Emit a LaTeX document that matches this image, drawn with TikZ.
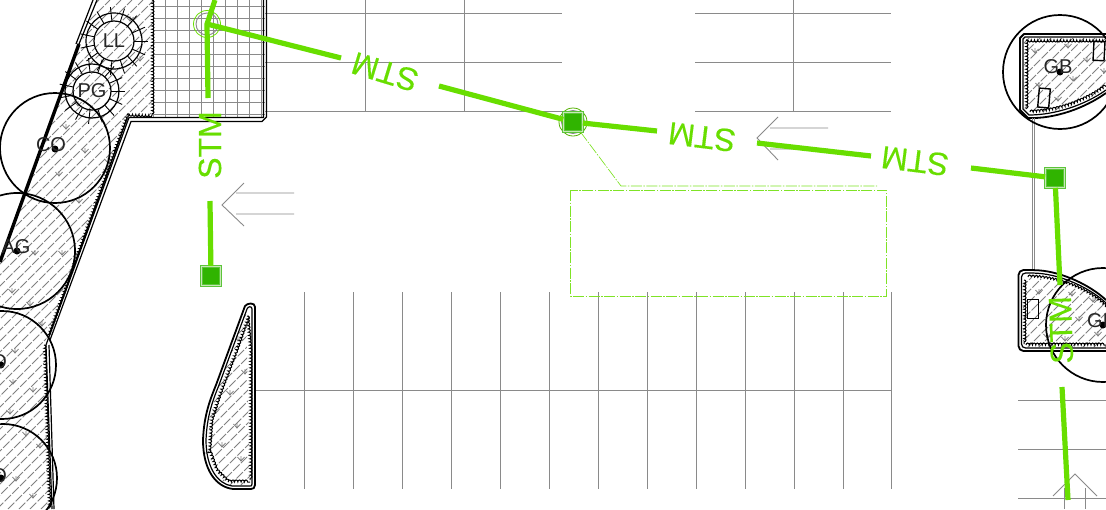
\documentclass[tikz,border=0pt]{standalone}
\usepackage{fontspec}
\setmainfont{Liberation Sans}
\newfontfamily\stmfont[FakeBold=0.3]{Liberation Sans}
\usetikzlibrary{decorations.pathmorphing}
\definecolor{stm}{HTML}{68DE00}
\definecolor{inlet}{HTML}{30B400}
\definecolor{inletb}{HTML}{5CC43A}
\definecolor{inlets}{HTML}{C8E8B8}
\definecolor{site}{HTML}{8A8A8A}
\tikzset{
  x=1pt,y=-1pt,
  siteline/.style={draw=site,line width=0.9pt},
  pipe/.style={draw=stm,line width=5.2pt},
  stmlabel/.style={text=stm,font=\stmfont\fontsize{32}{32}\selectfont,inner sep=0pt},
  inletbox/.style={draw=inletb,fill=inlet,line width=1.1pt,double=inlets,double distance=0.6pt,minimum size=18.5pt,inner sep=0pt},
  curbline/.style={draw=black,line width=1.2pt},
  thickcurb/.style={draw=black,line width=1.8pt,line join=round},
  canopy/.style={draw=black,line width=1.7pt},
  hatchline/.style={draw=black!50,line width=0.85pt,dash pattern=on 9pt off 1.8pt},
  scallop/.style={draw=black,line width=1pt,decorate,decoration={bumps,segment length=6.5pt,amplitude=2pt}},
  treelabel/.style={font=\fontsize{20}{20}\selectfont,text=black!85,inner sep=0pt},
  trunk/.style={fill=black,circle,minimum size=7pt,inner sep=0pt},
  carstop/.style={draw=black,line width=1.4pt,inner sep=0pt},
  reach/.style={draw=stm!85,line width=0.65pt,dash pattern=on 11pt off 1.5pt on 1.5pt off 1.5pt},
  pics/grassmark/.style={code={
    \draw[black!50,line width=0.8pt] (-3.5,-3) -- (0,1) -- (3.5,-3) (0,1) -- (0,-4);
  }}
}
\newcommand{\hatchfill}{%
  \foreach \k in {0,11,...,1700}{\draw[hatchline] (\k-509,509) -- (\k,0);}%
}
\begin{document}
\begin{tikzpicture}
\useasboundingbox (0,0) rectangle (1106,509);
\fill[white] (0,0) rectangle (1106,509);
% parking layout
\foreach \yy in {13,62,111}{
  \draw[siteline] (265,\yy) -- (562,\yy);
  \draw[siteline] (695,\yy) -- (891,\yy);
}
\foreach \xx in {365,464,793}{\draw[siteline] (\xx,0) -- (\xx,111);}
\foreach \xx in {304,353,402,451,500,549,598,647,696,745,794,843,891}{
  \draw[siteline] (\xx,292) -- (\xx,489);
}
\draw[siteline] (255,390) -- (891,390);
\foreach \yy in {400,449,498}{\draw[siteline] (1018,\yy) -- (1106,\yy);}
\draw[siteline] (1064,488) -- (1064,509) (1085,488) -- (1085,509);
\draw[siteline] (1053,496) -- (1075,474) -- (1097,496);
% arrows on the pavement
\draw[siteline] (244,183) -- (222,205) -- (244,226) (236,193) -- (294,193) (236,214) -- (294,214);
\draw[siteline] (778,117) -- (757,138) -- (778,160) (770,128) -- (828,128) (770,149) -- (828,149);
% paved grid
\begin{scope}
\clip (153,0) rectangle (265,118);
\foreach \xx in {153,165,...,265}{\draw[siteline] (\xx,0) -- (\xx,118);}
\foreach \yy in {6,18,...,114}{\draw[siteline] (153,\yy) -- (265,\yy);}
\end{scope}
% left planter
\begin{scope}
\clip (97,0) -- (0,262) -- (0,509) -- (50,509) -- (44,345) -- (127,118) -- (153,116) -- (153,0) -- cycle;
\hatchfill
\foreach \a/\b in {66/128,85/152,59/175,79/202,107/172,62/254,35/254,12/292,30/305,42/325,15/352,13/383,33/391,10/413,26/435,40/447,16/480,33/497,78/105,140/60,130/20,108/162}{
  \path (\a,\b) pic {grassmark};
}
\end{scope}
\draw[scallop] (152,0) -- (152,115);
\draw[scallop] (152,115) -- (127,114);
\draw[scallop] (127,114) -- (48,335);
\draw[scallop] (44,345) -- (49,509);
\draw[curbline] (266.5,0) -- (266.5,117) -- (262,121.5) -- (131,121.5) -- (50,340);
\draw[curbline] (263.5,0) -- (263.5,117.5) -- (129,117.5) -- (46,345) -- (52,509);
\draw[curbline] (127,118) -- (49,335);
\draw[curbline] (49,345) -- (54,509);
\draw[black,line width=3.4pt] (79,44) -- (0,262);
\draw[curbline] (97,0) -- (79,44);
\draw[curbline] (93,0) -- (76,44);
% middle island
\begin{scope}
\clip (246,310) -- (250,485) -- (225,485) -- (208,455) -- (210,410) -- cycle;
\hatchfill
\foreach \a/\b in {238/340,245/373,230/394,216/412,237/427,222/446,241/460}{
  \path (\a,\b) pic {grassmark};
}
\end{scope}
\draw[thickcurb] (245,306) .. controls (247,303) and (255,302) .. (255,307) -- (255,485) .. controls (255,488) and (253,489) .. (251,489) -- (233,489) .. controls (216,487) and (203,470) .. (203,440) .. controls (204,415) and (210,400) .. (216,385) -- cycle;
\draw[curbline] (247,309) .. controls (248,306) and (252,306) .. (252,309) -- (252,484) .. controls (252,486) and (251,486) .. (250,486) -- (232,486) .. controls (218,484) and (206,468) .. (206,440) .. controls (207,415) and (213,400) .. (219,385) -- cycle;
\draw[scallop] (247,316) -- (250,350) -- (250,480);
\draw[scallop] (248,316) -- (236,350) -- (220,392) -- (211,420) -- (209,450) -- (216,470) -- (228,482) -- (250,482);
% top right planter
\begin{scope}
\clip (1024,38) -- (1106,38) -- (1106,90) .. controls (1080,105) and (1055,113) .. (1034,113) -- (1024,108) -- cycle;
\hatchfill
\foreach \a/\b in {1035/52,1068/47,1087/61,1073/80,1039/86,1058/100,1104/72}{
  \path (\a,\b) pic {grassmark};
}
\end{scope}
\draw[thickcurb] (1106,34) -- (1024,34) -- (1020,38) -- (1020,110) -- (1028,118) .. controls (1055,119) and (1085,108) .. (1106,93);
\draw[curbline] (1106,37) -- (1025,37) -- (1023,39) -- (1023,109) -- (1029,115) .. controls (1055,115) and (1085,105) .. (1106,90);
\draw[scallop] (1106,40) -- (1026,40);
\draw[scallop] (1026,40) -- (1026,109);
\draw[scallop] (1030,112) .. controls (1055,112) and (1085,102) .. (1106,86);
\node[carstop,minimum width=11pt,minimum height=19pt,rotate=-5] (cs1) at (1044,98) {};
\node[carstop,minimum width=11pt,minimum height=19pt,rotate=-3] (cs2) at (1099,51) {};
% service lines
\draw[site,line width=0.9pt] (1032,118) -- (1032,270) (1034.5,118) -- (1034.5,270);
% lower right planter
\begin{scope}
\clip (1023,278) .. controls (1060,278) and (1090,290) .. (1106,306) -- (1106,347) -- (1023,347) -- cycle;
\hatchfill
\foreach \a/\b in {1039/293,1072/295,1093/301,1079/320,1047/337,1065/340,1098/335}{
  \path (\a,\b) pic {grassmark};
}
\end{scope}
\draw[thickcurb,rounded corners=5pt] (1106,351) -- (1018.5,351) -- (1018.5,270) -- (1034,270) .. controls (1062,272) and (1090,285) .. (1106,300);
\draw[curbline,rounded corners=4pt] (1106,348) -- (1021.5,348) -- (1021.5,273) -- (1034,273) .. controls (1062,275) and (1090,288) .. (1106,303);
\draw[scallop] (1028,277) .. controls (1060,277) and (1090,291) .. (1106,307);
\draw[scallop] (1024,280) -- (1024,344);
\draw[scallop] (1026,345) -- (1106,345);
\node[carstop,minimum width=11pt,minimum height=19pt] (cs3) at (1033,309) {};
% trees
\node[canopy,circle,minimum size=110pt,inner sep=0pt] (co) at (55,148) {};
\node[canopy,circle,minimum size=116pt,inner sep=0pt] (ag) at (17,251) {};
\node[canopy,circle,minimum size=108pt,inner sep=0pt] (t3) at (2,365) {};
\node[canopy,circle,minimum size=108pt,inner sep=0pt] (t4) at (3,478) {};
\node[canopy,circle,minimum size=114pt,inner sep=0pt] (gb) at (1060,72) {};
\node[canopy,circle,minimum size=114pt,inner sep=0pt] (gp) at (1103,325) {};
\node[trunk] at (55,149) {};
\node[trunk] at (17,251) {};
\node[trunk] at (1,365) {};
\node[trunk] at (1,478) {};
\node[trunk] at (1060,72) {};
\node[trunk] at (1103,325) {};
\node[treelabel] at (51,145) {CO};
\node[treelabel] at (16,247) {AG};
\node[treelabel] at (-8,362) {CO};
\node[treelabel] at (-8,476) {CO};
\node[treelabel] at (1058,67) {GB};
\node[treelabel,anchor=west] at (1087,321) {GB};
% ornamental trees
\foreach \cx/\cy/\ri/\ro in {114/41/20/28,92/91/19/27}{
  \draw[black,line width=1.2pt] (\cx,\cy) circle[radius=\ri];
  \draw[black,line width=1.2pt] (\cx,\cy) circle[radius=\ro];
  \foreach \t in {0,24,...,336}{
    \draw[black,line width=0.9pt] (\cx,\cy) ++(\t:\ri) -- ++(\t:\ro-\ri+6);
  }
}
\node[treelabel] at (114,41) {LL};
\node[treelabel] at (92,91) {PG};
% reach of the inlet
\draw[reach] (570.5,190) rectangle (886.5,296);
\coordinate (lk) at (621,186);
\coordinate (le) at (877,186);
% structures
\node[draw=site,circle,minimum size=22pt,inner sep=0pt,line width=0.9pt] (mh) at (207,24) {};
\draw[stm,line width=0.8pt] (207,24) circle[radius=13.5];
\draw[site,line width=0.9pt] (573,122) circle[radius=11.5];
\draw[stm!80!black,line width=0.8pt] (573,122) circle[radius=14];
\node[inletbox] (a) at (573,122) {};
\node[inletbox] (b) at (1055,178) {};
\node[inletbox] (c) at (211,276) {};
\draw[reach] (a) -- (lk) -- (le);
% pipes
\coordinate (p0) at (215,0);
\coordinate (p1) at (208,98);
\coordinate (p2) at (341,58);
\coordinate (p3) at (439,86);
\coordinate (p4) at (657,131);
\coordinate (p5) at (757,143);
\coordinate (p6) at (871,156);
\coordinate (p7) at (971,168);
\coordinate (p8) at (1060,285);
\coordinate (p9) at (1062,387);
\coordinate (p10) at (1068,500);
\coordinate (p11) at (210,201);
\draw[pipe] (p0) -- (mh.center) -- (p1);
\draw[pipe] (mh.center) -- (p2);
\draw[pipe] (p3) -- (a);
\draw[pipe] (a) -- (p4);
\draw[pipe] (p5) -- (p6);
\draw[pipe] (p7) -- (b);
\draw[pipe] (b) -- (p8);
\draw[pipe] (p9) -- (p10);
\draw[pipe] (p11) -- (c);
\node[stmlabel,rotate=90] at (210,145) {STM};
\node[stmlabel,rotate=163] at (385,72) {STM};
\node[stmlabel,rotate=173] at (702,137) {STM};
\node[stmlabel,rotate=173] at (915,161) {STM};
\node[stmlabel,rotate=92] at (1061,330) {STM};
\end{tikzpicture}
\end{document}
